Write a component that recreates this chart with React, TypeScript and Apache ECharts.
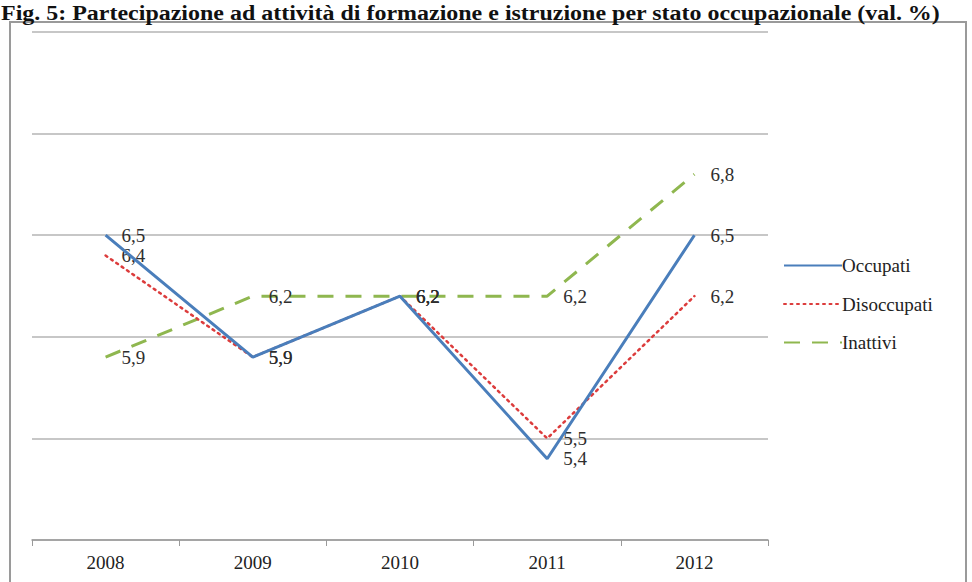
import React, { useEffect, useRef } from "react";
import * as echarts from "echarts";

// Partecipazione ad attività di formazione e istruzione (val. %)
const anni = ["2008", "2009", "2010", "2011", "2012"];
const occupati = [6.5, 5.9, 6.2, 5.4, 6.5];
const disoccupati = [6.4, 5.9, 6.2, 5.5, 6.2];
const inattivi = [5.9, 6.2, 6.2, 6.2, 6.8];

const titolo =
  "Fig. 5: Partecipazione ad attività di formazione e istruzione per stato occupazionale (val. %)";

const SERIF = "'Liberation Serif', 'DejaVu Serif', serif";

const virgola = (p: any) => String(p.value).replace(".", ",");

const etichetta = {
  show: true,
  position: "right" as const,
  distance: 16,
  color: "#2e2e2e",
  fontFamily: SERIF,
  fontSize: 19,
  formatter: virgola,
};

export default function App() {
  const ref = useRef<HTMLDivElement>(null);

  useEffect(() => {
    if (!ref.current) return;
    const chart = echarts.init(ref.current, null, { renderer: "svg" });
    chart.setOption({
      animation: false,
      backgroundColor: "#ffffff",
      graphic: [
        {
          type: "rect",
          shape: { x: 10, y: 22, width: 956, height: 600 },
          style: { fill: "none", stroke: "#9a9a9a", lineWidth: 2 },
          z: 0,
        },
        {
          type: "text",
          x: 1,
          y: 1,
          scaleX: 1.09,
          style: {
            text: titolo,
            fontFamily: SERIF,
            fontWeight: "bold",
            fontSize: 22,
            fill: "#111",
            verticalAlign: "top",
          },
        },
      ],
      grid: { left: 32, right: 204, top: 32, bottom: 42 },
      legend: {
        orient: "vertical",
        left: 778,
        top: 251,
        itemWidth: 58,
        itemHeight: 18,
        itemGap: 19.5,
        itemStyle: { opacity: 0 },
        textStyle: { fontFamily: SERIF, fontSize: 19, color: "#222", padding: [0, 0, 0, -5] },
        data: ["Occupati", "Disoccupati", "Inattivi"],
      },
      xAxis: {
        type: "category",
        data: anni,
        boundaryGap: true,
        axisLine: { lineStyle: { color: "#9a9a9a", width: 1.5 } },
        axisTick: { show: true, length: 6, lineStyle: { color: "#9a9a9a" } },
        axisLabel: {
          margin: 13,
          fontFamily: SERIF,
          fontSize: 19,
          color: "#222",
        },
      },
      yAxis: {
        type: "value",
        min: 5,
        max: 7.5,
        interval: 0.5,
        axisLabel: { show: false },
        axisLine: { show: false },
        axisTick: { show: false },
        splitLine: { lineStyle: { color: "#b4b4b4", width: 1.5 } },
      },
      series: [
        {
          name: "Occupati",
          type: "line",
          data: occupati,
          symbol: "circle",
          symbolSize: 0,
          z: 4,
          lineStyle: { color: "#4a7ebb", width: 3 },
          itemStyle: { color: "#4a7ebb" },
          label: etichetta,
        },
        {
          name: "Disoccupati",
          type: "line",
          data: disoccupati,
          symbol: "circle",
          symbolSize: 0,
          z: 3,
          lineStyle: { color: "#dc3c3c", width: 2.5, type: [2, 4.5], cap: "round" },
          itemStyle: { color: "#dc3c3c" },
          label: etichetta,
        },
        {
          name: "Inattivi",
          type: "line",
          data: inattivi,
          symbol: "circle",
          symbolSize: 0,
          z: 2,
          lineStyle: { color: "#8fb74f", width: 3, type: [16, 12] },
          itemStyle: { color: "#8fb74f" },
          label: etichetta,
        },
      ],
    });
    return () => chart.dispose();
  }, []);

  return (
    <div
      ref={ref}
      style={{ position: "fixed", left: 0, top: 0, width: 972, height: 582 }}
    />
  );
}
